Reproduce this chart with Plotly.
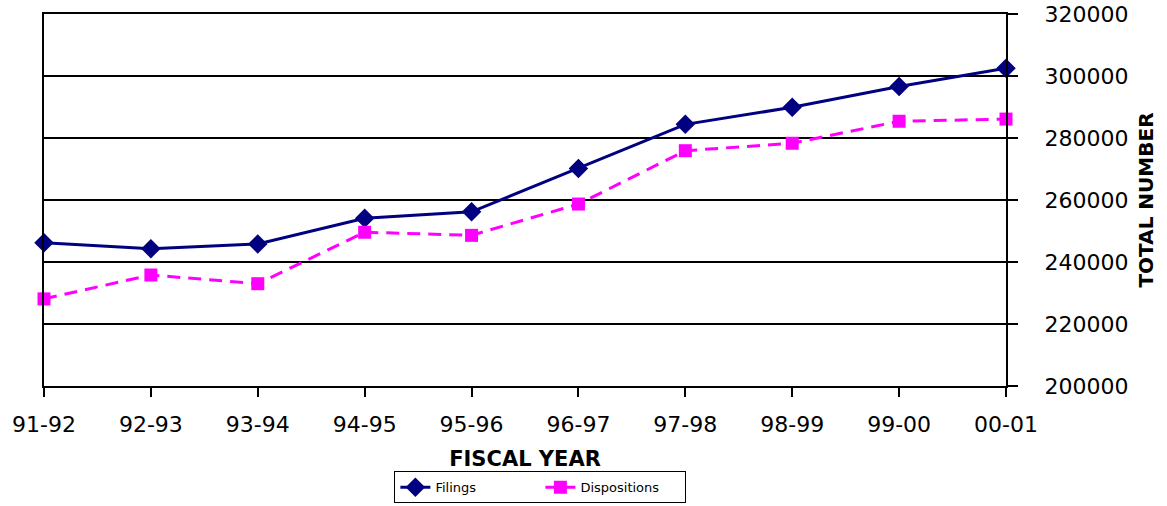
import plotly.graph_objects as go

# Fiscal-year caseload totals
fiscal_years = ["91-92", "92-93", "93-94", "94-95", "95-96",
                "96-97", "97-98", "98-99", "99-00", "00-01"]
filings = [246200, 244300, 245800, 254100, 256200,
           270200, 284400, 289900, 296600, 302500]
dispositions = [228100, 235800, 233000, 249600, 248600,
                258700, 275900, 278300, 285400, 286100]
y_ticks = [200000, 220000, 240000, 260000, 280000, 300000, 320000]

FONT = "DejaVu Sans"

fig = go.Figure()
fig.add_trace(go.Scatter(
    x=fiscal_years, y=filings, name="Filings", mode="lines+markers",
    line=dict(color="#000080", width=3),
    marker=dict(symbol="diamond", size=15, color="#000080"),
    cliponaxis=False,
))
fig.add_trace(go.Scatter(
    x=fiscal_years, y=dispositions, name="Dispositions", mode="lines+markers",
    line=dict(color="#FF00FF", width=3, dash="13px,8px"),
    marker=dict(symbol="square", size=13, color="#FF00FF"),
    cliponaxis=False,
))

fig.update_layout(
    width=1167, height=506,
    margin=dict(l=44, r=161, t=14, b=120, autoexpand=False),
    paper_bgcolor="white", plot_bgcolor="white",
    font=dict(family=FONT, color="black"),
    showlegend=True,
    legend=dict(
        orientation="h", x=0.516, xanchor="center", y=-0.315, yanchor="bottom",
        bordercolor="black", borderwidth=1,
        font=dict(family=FONT, size=13),
        entrywidth=100, tracegroupgap=0,
    ),
    xaxis=dict(
        type="category", range=[0, 9], automargin=False,
        showline=True, linecolor="black", linewidth=2, mirror=True,
        ticks="outside", ticklen=9, tickwidth=2, tickcolor="black",
        showgrid=False, tickfont=dict(size=22, family=FONT),
        ticklabelstandoff=9,
        title=dict(text="<b>FISCAL YEAR</b>", font=dict(size=21, family=FONT),
                   standoff=15),
    ),
    yaxis=dict(
        side="right", range=[200000, 320000], tickvals=y_ticks,
        tickformat="d", automargin=False,
        showline=True, linecolor="black", linewidth=2, mirror=True,
        ticks="outside", ticklen=10, tickwidth=2, tickcolor="black",
        showgrid=True, gridcolor="black", gridwidth=1.5,
        zeroline=False,
        tickfont=dict(size=22, family=FONT),
        ticklabelstandoff=22,
        title=dict(text="<b>TOTAL NUMBER</b>", font=dict(size=20, family=FONT),
                   standoff=12),
    ),
)

fig.write_html("out.html")
